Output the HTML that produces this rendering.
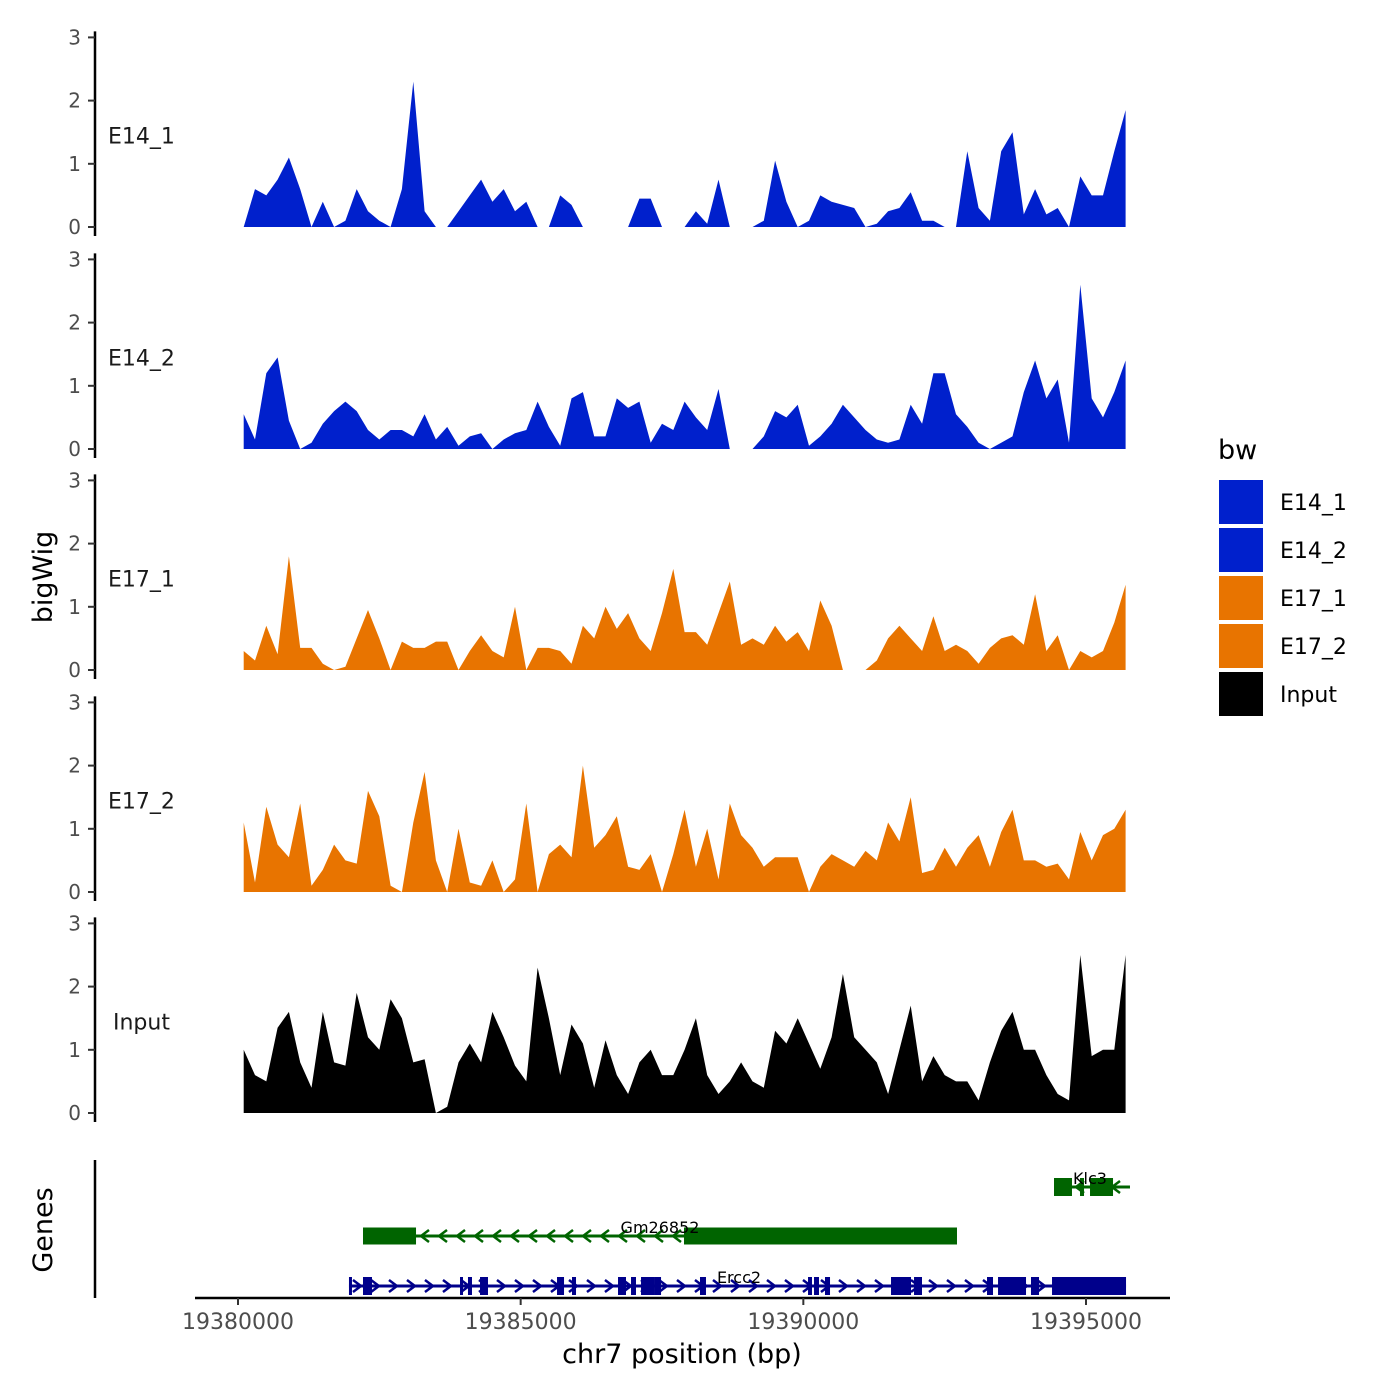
<!DOCTYPE html>
<html><head><meta charset="utf-8"><style>
html,body{margin:0;padding:0;background:#fff;}
svg{display:block;font-family:"DejaVu Sans","Liberation Sans",sans-serif;}
</style></head><body>
<svg id="chart" width="1400" height="1400" viewBox="0 0 1400 1400"></svg>
<script>
const trackNames = ["E14_1","E14_2","E17_1","E17_2","Input"];
const trackColors = ["#0020CC","#0020CC","#E87400","#E87400","#000000"];
const binStart = 19380100;
const binSize = 200;
const e14_1 = [0,0.6,0.5,0.75,1.1,0.6,0,0.4,0,0.1,0.6,0.25,0.1,0,0.6,2.3,0.25,0,0,0.25,0.5,0.75,0.4,0.6,0.25,0.4,0,0,0.5,0.35,0,0,0,0,0,0.45,0.45,0,0,0,0.25,0.05,0.75,0,0,0,0.1,1.05,0.4,0,0.1,0.5,0.4,0.35,0.3,0,0.05,0.25,0.3,0.55,0.1,0.1,0,0,1.2,0.3,0.1,1.2,1.5,0.2,0.6,0.2,0.3,0,0.8,0.5,0.5,1.2,1.85];
const e14_2 = [0.55,0.15,1.2,1.45,0.45,0,0.1,0.4,0.6,0.75,0.6,0.3,0.15,0.3,0.3,0.2,0.55,0.15,0.35,0.05,0.2,0.25,0,0.15,0.25,0.3,0.75,0.35,0.05,0.8,0.9,0.2,0.2,0.8,0.65,0.75,0.1,0.4,0.3,0.75,0.5,0.3,0.95,0,0,0,0.2,0.6,0.5,0.7,0.05,0.2,0.4,0.7,0.5,0.3,0.15,0.1,0.15,0.7,0.4,1.2,1.2,0.55,0.35,0.1,0,0.1,0.2,0.9,1.4,0.8,1.1,0.1,2.6,0.8,0.5,0.9,1.4];
const e17_1 = [0.3,0.15,0.7,0.25,1.8,0.35,0.35,0.1,0,0.05,0.5,0.95,0.5,0,0.45,0.35,0.35,0.45,0.45,0,0.3,0.55,0.3,0.2,1.0,0,0.35,0.35,0.3,0.1,0.7,0.5,1.0,0.65,0.9,0.5,0.3,0.9,1.6,0.6,0.6,0.4,0.9,1.4,0.4,0.5,0.4,0.7,0.45,0.6,0.3,1.1,0.7,0,0,0,0.15,0.5,0.7,0.5,0.3,0.85,0.3,0.4,0.3,0.1,0.35,0.5,0.55,0.4,1.2,0.3,0.55,0,0.3,0.2,0.3,0.75,1.35];
const e17_2 = [1.1,0.15,1.35,0.75,0.55,1.4,0.1,0.35,0.75,0.5,0.45,1.6,1.2,0.1,0,1.1,1.9,0.5,0,1.0,0.15,0.1,0.5,0,0.2,1.4,0,0.6,0.75,0.55,2.0,0.7,0.9,1.2,0.4,0.35,0.6,0,0.6,1.3,0.4,1.0,0.2,1.4,0.9,0.7,0.4,0.55,0.55,0.55,0,0.4,0.6,0.5,0.4,0.65,0.5,1.1,0.8,1.5,0.3,0.35,0.7,0.4,0.7,0.9,0.4,0.95,1.3,0.5,0.5,0.4,0.45,0.2,0.95,0.5,0.9,1.0,1.3];
const input = [1.0,0.6,0.5,1.35,1.6,0.8,0.4,1.6,0.8,0.75,1.9,1.2,1.0,1.8,1.5,0.8,0.85,0,0.1,0.8,1.1,0.8,1.6,1.2,0.75,0.5,2.3,1.5,0.6,1.4,1.1,0.4,1.15,0.6,0.3,0.8,1.0,0.6,0.6,1.0,1.5,0.6,0.3,0.5,0.8,0.5,0.4,1.3,1.1,1.5,1.1,0.7,1.2,2.2,1.2,1.0,0.8,0.3,1.0,1.7,0.5,0.9,0.6,0.5,0.5,0.2,0.8,1.3,1.6,1.0,1.0,0.6,0.3,0.2,2.5,0.9,1.0,1.0,2.5];
const trackValues = [e14_1,e14_2,e17_1,e17_2,input];
const yTicks = [0,1,2,3];
const xTicks = [19380000,19385000,19390000,19395000];
const geneNames = ["Klc3","Gm26852","Ercc2"];
const geneColors = ["#006400","#006400","#00008B"];
const geneStrand = [-1,-1,1];
const geneSpan = [[19394434,19395778],[19382211,19392718],[19381963,19395708]];
const klc3Exons = [[19394434,19394752],[19394894,19394965],[19395071,19395478]];
const gm26852Exons = [[19382211,19383149],[19387889,19392718]];
const ercc2Exons = [[19381963,19382010],[19382211,19382370],[19383927,19383980],[19384068,19384139],[19384281,19384422],[19385643,19385767],[19385908,19385979],[19386722,19386863],[19386952,19387040],[19387129,19387359],[19387359,19387483],[19388172,19388278],[19390083,19390153],[19390189,19390277],[19390383,19390472],[19391551,19391905],[19391958,19392099],[19393249,19393355],[19393444,19393939],[19394027,19394169],[19394399,19395708]];
const geneExons = [klc3Exons,gm26852Exons,ercc2Exons];

const NS="http://www.w3.org/2000/svg";
const svg=document.getElementById('chart');
function mk(tag,attrs,parent){const e=document.createElementNS(NS,tag);for(const k in attrs)e.setAttribute(k,attrs[k]);(parent||svg).appendChild(e);return e;}
const xScale = bp => 238 + (bp-19380000)*(848/15000);
const panelZero = [227,449,670,892,1113];
const unit = 63.2;
const yScale = (p,v) => panelZero[p] - v*unit;

for(let p=0;p<5;p++){
  const g=mk('g',{});
  
  
  const vals=trackValues[p];
  let d='M'+xScale(binStart).toFixed(1)+','+panelZero[p];
  vals.forEach((v,i)=>{d+=' L'+xScale(binStart+i*binSize).toFixed(1)+','+yScale(p,v).toFixed(1);});
  d+=' L'+xScale(binStart+(vals.length-1)*binSize).toFixed(1)+','+panelZero[p]+' Z';
  const a=mk('path',{d:d,fill:trackColors[p]},g);
  
  
  const ax=mk('line',{x1:95,x2:95,y1:panelZero[p]-3*unit-6,y2:panelZero[p]+9,stroke:'#000','stroke-width':2.5},g);
  
  
  yTicks.forEach(t=>{
    mk('line',{x1:88,x2:95,y1:yScale(p,t),y2:yScale(p,t),stroke:'#333','stroke-width':2},g);
    const tx=mk('text',{x:81,y:yScale(p,t)+7,'text-anchor':'end','font-size':20,fill:'#4d4d4d'},g);
    tx.textContent=t;
    
    
  });
  const lb=mk('text',{x:p==4?113:108,y:yScale(p,1.45)+8,'font-size':22,fill:'#1a1a1a'},g);
  lb.textContent=trackNames[p];
  
  
}

// genes panel
const gAx=mk('line',{x1:95,x2:95,y1:1160,y2:1298,stroke:'#000','stroke-width':2.5});


const geneY=[1187,1236,1286];
const exonH=[18,17,18];
for(let gi=0;gi<3;gi++){
  const g=mk('g',{});
  
  
  const c=geneColors[gi], y=geneY[gi];
  const x1=xScale(geneSpan[gi][0]), x2=xScale(geneSpan[gi][1]);
  mk('line',{x1:x1,x2:x2,y1:y,y2:y,stroke:c,'stroke-width':3},g);
  for(let x=x1+8;x<x2-2;x+=18){
    const s=geneStrand[gi]*4;
    mk('polyline',{points:(x-s)+','+(y-6)+' '+(x+s)+','+y+' '+(x-s)+','+(y+6),fill:'none',stroke:c,'stroke-width':2.5},g);
  }
  geneExons[gi].forEach(e=>{
    const r=mk('rect',{x:xScale(e[0]),y:y-exonH[gi]/2,width:Math.max(3,xScale(e[1])-xScale(e[0])),height:exonH[gi],fill:c},g);
    
    
  });
  const lx=[1090,660,739][gi];
  const t=mk('text',{x:lx,y:y-3,'text-anchor':'middle','font-size':16,fill:'#000'},g);
  t.textContent=geneNames[gi];
  
  
}

// x axis
const xa=mk('line',{x1:195,x2:1170,y1:1298,y2:1298,stroke:'#000','stroke-width':2.5});


xTicks.forEach(t=>{
  mk('line',{x1:xScale(t),x2:xScale(t),y1:1298,y2:1305,stroke:'#333','stroke-width':2});
  const tx=mk('text',{x:xScale(t),y:1329,'text-anchor':'middle','font-size':22,fill:'#4d4d4d'});
  tx.textContent=t;
  
  
});
const xt=mk('text',{x:682,y:1363,'text-anchor':'middle','font-size':27,fill:'#000'});
xt.textContent='chr7 position (bp)';


const yt=mk('text',{x:0,y:0,'text-anchor':'middle','font-size':27,fill:'#000',transform:'translate(52,577) rotate(-90)'});
yt.textContent='bigWig';


const gt=mk('text',{x:0,y:0,'text-anchor':'middle','font-size':27,fill:'#000',transform:'translate(52,1230) rotate(-90)'});
gt.textContent='Genes';



// legend
const lg=mk('g',{});


const lt=mk('text',{x:1218,y:459,'font-size':27,fill:'#000'},lg);
lt.textContent='bw';


trackNames.forEach((n,i)=>{
  const r=mk('rect',{x:1219,y:480+i*48,width:44,height:44,fill:trackColors[i]},lg);
  
  
  const t=mk('text',{x:1280,y:510+i*48,'font-size':22,fill:'#000'},lg);
  t.textContent=n;
  
  
});
</script>
</body></html>
